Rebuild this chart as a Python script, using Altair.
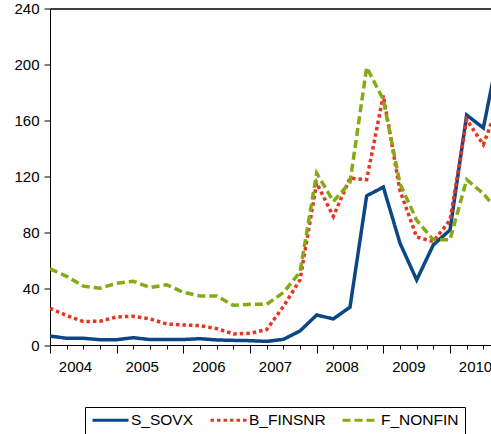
import altair as alt
import pandas as pd

# Quarterly observations, 2004Q1 .. 2010Q4
series_names = ["S_SOVX", "B_FINSNR", "F_NONFIN"]
s_sovx = [6.4, 4.8, 4.8, 3.8, 3.8, 5.2, 3.9, 3.9, 3.9, 4.5, 3.6, 3.3, 3.1, 2.6,
          4.0, 10.0, 21.4, 18.6, 27.0, 106.4, 112.6, 72.6, 46.4, 71.4, 82.0,
          164.0, 154.8, 214.0]
b_finsnr = [26.2, 21.0, 16.7, 17.0, 20.0, 20.5, 18.6, 15.0, 14.3, 13.8, 11.7,
            7.9, 8.3, 11.0, 27.4, 46.4, 115.5, 91.7, 119.0, 117.9, 178.0,
            110.0, 77.0, 73.8, 89.0, 160.7, 142.9, 175.0]
f_nonfin = [54.3, 49.0, 42.0, 40.5, 44.0, 45.5, 41.0, 43.0, 37.6, 35.0, 35.0,
            28.3, 29.0, 29.0, 37.4, 52.0, 122.6, 102.4, 116.0, 198.0, 175.0,
            115.0, 89.0, 75.0, 75.0, 118.0, 108.0, 94.0]
first_year = 2004
y_ticks = [0, 40, 80, 120, 160, 200, 240]

rows = []
for name, vals in zip(series_names, [s_sovx, b_finsnr, f_nonfin]):
    for q, v in enumerate(vals):
        rows.append({"q": q, "series": name, "value": v})
df = pd.DataFrame(rows)

FONT = "Liberation Sans"
X_MAX = 26.46  # visible range in quarters
n_q = len(s_sovx)

x_scale = alt.Scale(domain=[0, X_MAX], nice=False, zero=False)
y_scale = alt.Scale(domain=[0, 240], nice=False, zero=True)

colors = ["#0b4785", "#ea3323", "#84ab14"]
dashes = [[1, 0], [3.5, 3], [8, 4]]

# horizontal stroke swatches; clipHeight keeps the legend rows short
legend = alt.Legend(
    title=None, orient="none", legendX=35, legendY=398.5, direction="horizontal",
    symbolType="stroke", symbolSize=1296, symbolStrokeWidth=3,
    symbolOffset=0, labelOffset=1, clipHeight=14,
    labelFont=FONT, labelFontSize=15.5, labelColor="black",
    strokeColor="black", padding=6, columnPadding=15,
    cornerRadius=0,
)

lines = alt.Chart(df).mark_line(strokeWidth=3.5, clip=True).encode(
    x=alt.X("q:Q", scale=x_scale, title=None,
            axis=alt.Axis(values=[i for i in range(n_q) if i <= X_MAX],
                          tickSize=4, labels=False, grid=False, orient="bottom",
                          domainColor="black", tickColor="black", domainWidth=1)),
    y=alt.Y("value:Q", scale=y_scale, title=None,
            axis=alt.Axis(values=y_ticks, tickSize=6, labelPadding=5, grid=False,
                          labelFont=FONT, labelFontSize=15, labelColor="black",
                          domainColor="black", tickColor="black", labelFlush=False)),
    color=alt.Color("series:N", scale=alt.Scale(domain=series_names, range=colors),
                    legend=legend),
    strokeDash=alt.StrokeDash("series:N",
                              scale=alt.Scale(domain=series_names, range=dashes),
                              legend=legend),
)

# longer ticks at the start of each year
major = alt.Chart(df).mark_point(opacity=0).encode(
    x=alt.X("q:Q", scale=x_scale, title=None,
            axis=alt.Axis(values=[i for i in range(0, n_q, 4)], tickSize=8,
                          labels=False, domain=False, grid=False, orient="bottom",
                          tickColor="black")),
)

# year labels centred on each year's quarters
year_labels = alt.Chart(df).mark_point(opacity=0).encode(
    x=alt.X("q:Q", scale=x_scale, title=None,
            axis=alt.Axis(values=[1.5 + 4 * k for k in range(7)], ticks=False,
                          domain=False, grid=False, orient="bottom",
                          labelExpr=f"toString({first_year} + floor(datum.value / 4))",
                          labelFont=FONT, labelFontSize=15, labelColor="black",
                          labelPadding=14, labelOverlap=False, labelFlush=False)),
)

# frame line along the top of the plot
top_frame = alt.Chart(df).mark_point(opacity=0).encode(
    x=alt.X("q:Q", scale=x_scale, title=None,
            axis=alt.Axis(ticks=False, labels=False, grid=False, orient="top",
                          domainColor="black", domainWidth=1.5)),
)

chart = alt.layer(lines, major, year_labels, top_frame).resolve_axis(
    x="independent"
).properties(
    width=441, height=336.5,
    autosize=alt.AutoSizeParams(type="none"),
    padding={"left": 50, "top": 8.5, "right": 0, "bottom": 89},
    background="white",
).configure_view(stroke=None)

chart.save("out.html", embed_options={"renderer": "svg", "actions": False})
